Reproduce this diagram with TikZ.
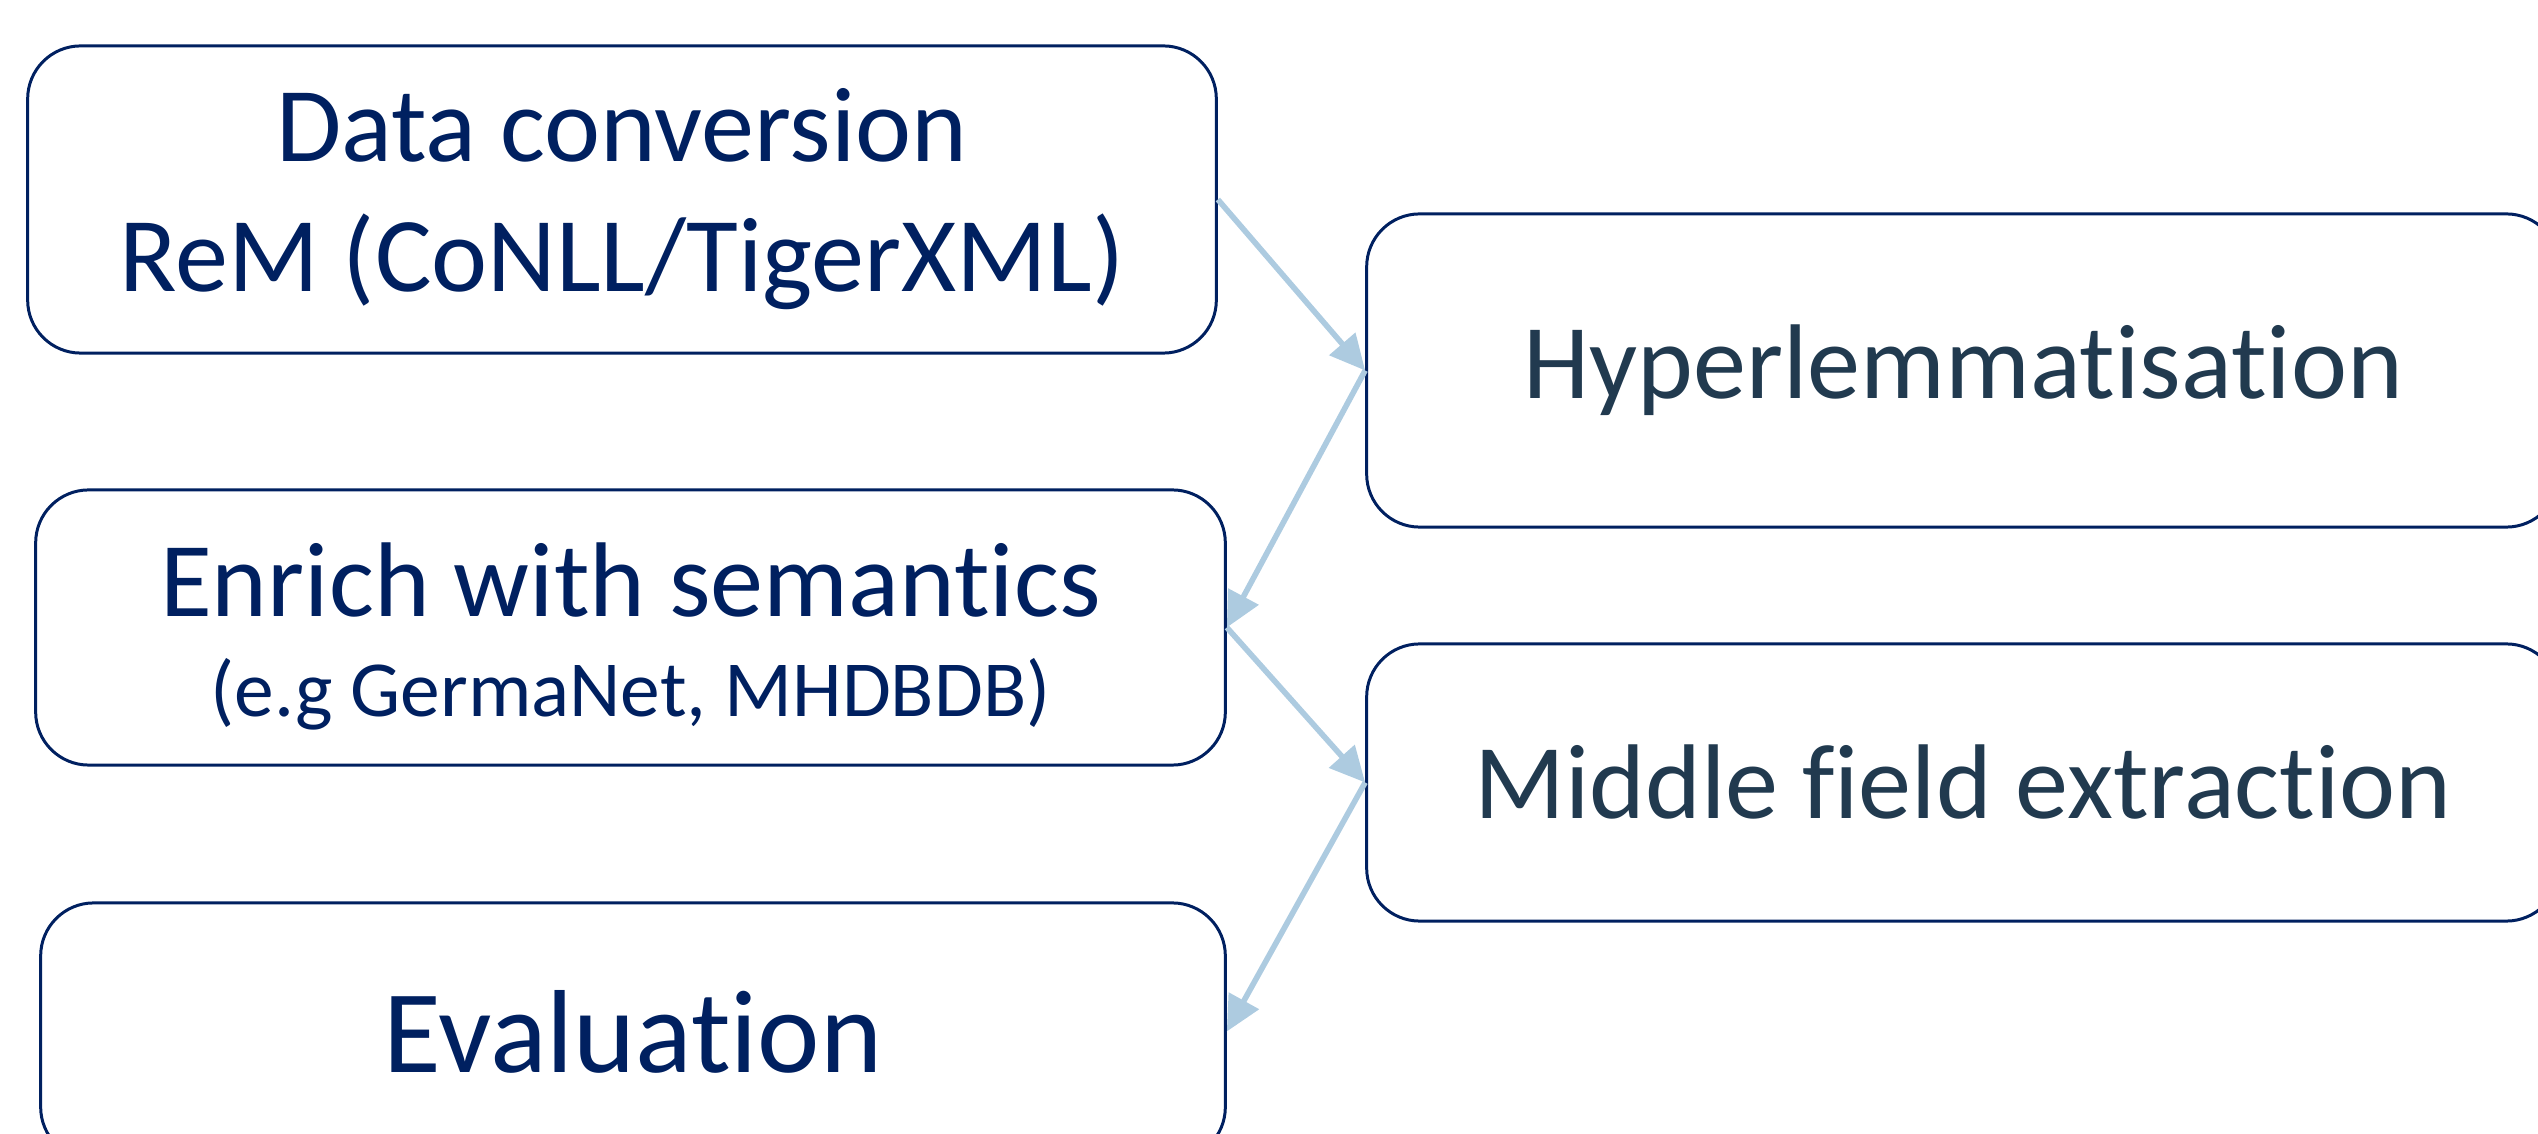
\documentclass[tikz,border=0pt]{standalone}
\usepackage{fontspec}
\setmainfont{Carlito}[Ligatures=NoCommon]
\usetikzlibrary{arrows.meta}
\definecolor{boxnavy}{HTML}{002060}
\definecolor{textslate}{HTML}{213A4F}
\definecolor{arrowblue}{HTML}{ADCBE0}

\begin{document}
\begin{tikzpicture}[x=0.01cm,y=-0.01cm,
	stepbox/.style={draw=boxnavy,line width=0.85pt,rounded corners=0.53cm,align=center,inner sep=0pt,font=\fontsize{30.2pt}{37pt}\selectfont},
	leftbox/.style={stepbox,text=boxnavy},
	rightbox/.style={stepbox,text=textslate,minimum width=11.92cm},
	flow/.style={-{Triangle[length=10pt,width=9.5pt]},draw=arrowblue,line width=1.6pt}]
	
	\useasboundingbox (0,0) rectangle (2538,1134);
	\clip (0,0) rectangle (2538,1134);
	
	\node[leftbox,minimum width=11.88cm,minimum height=3.07cm] (conversion) at (622,199.5) {Data conversion\\ReM (CoNLL/TigerXML)};
	
	\node[leftbox,minimum width=11.89cm,minimum height=2.75cm] (enrich) at (630.5,627.5) {\rule{0pt}{26pt}Enrich with semantics\\[-8.5pt]{\fontsize{22.6pt}{29.3pt}\selectfont (e.g GermaNet, MHDBDB)}};
	
	\node[leftbox,minimum width=11.84cm,minimum height=2.57cm,font=\fontsize{33.6pt}{40pt}\selectfont] (evaluation) at (633,1031.5) {Evaluation};
	
	\node[rightbox,minimum height=3.13cm] (hyper) at (1963,370.5) {Hyperlemmatisation};
	
	\node[rightbox,minimum height=2.77cm] (middle) at (1963,782.5) {Middle field extraction};
	
	\draw[flow] (conversion.east) -- (hyper.west);
	
	\draw[flow] (hyper.west) -- (enrich.east);
	
	\draw[flow] (enrich.east) -- (middle.west);
	
	\draw[flow] (middle.west) -- (evaluation.east);
\end{tikzpicture}
\end{document}
